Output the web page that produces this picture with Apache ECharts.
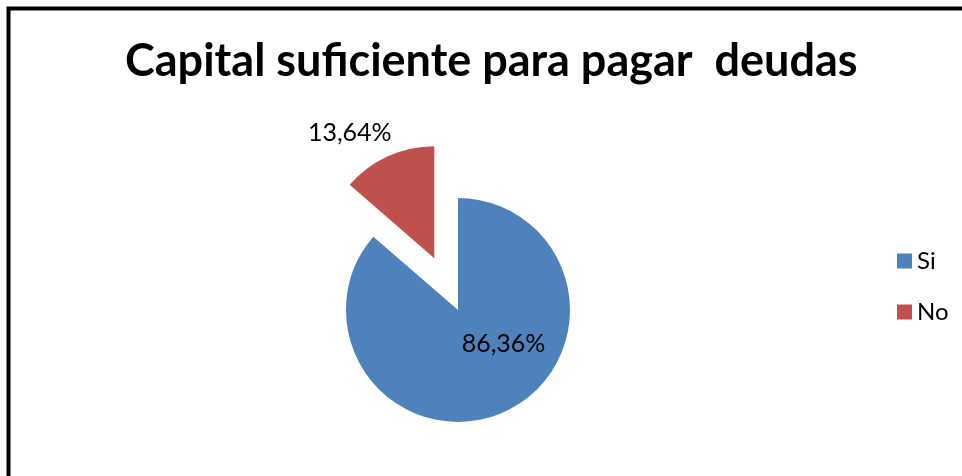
<!DOCTYPE html>
<html>
<head>
<meta charset="utf-8">
<script src="https://cdn.jsdelivr.net/npm/echarts@6/dist/echarts.min.js"></script>
<style>
  html, body { margin: 0; padding: 0; background: #fff; }
  #chart { width: 962px; height: 476px; }
</style>
</head>
<body>
<div id="chart"></div>
<script>
const titleText = 'Capital suficiente para pagar  deudas';
const categories = ['Si', 'No'];
const values = [86.36, 13.64];
const colors = ['#4F81BD', '#C0504D'];
const labelOffsets = [[21, -20], [-60, -72]];

const chart = echarts.init(document.getElementById('chart'), null, { renderer: 'canvas' });

const data = categories.map((name, i) => ({
  name: name,
  value: values[i],
  selected: i === 1,
  itemStyle: { color: colors[i] },
  label: { offset: labelOffsets[i] },
  select: { label: { offset: labelOffsets[i] }, itemStyle: { color: colors[i] } }
}));

chart.setOption({
  animation: false,
  backgroundColor: '#ffffff',
  title: {
    text: titleText,
    left: 125,
    top: 39,
    padding: 0,
    textStyle: {
      fontFamily: 'Lato',
      fontWeight: 'bold',
      fontSize: 45,
      color: '#000'
    }
  },
  legend: {
    orient: 'vertical',
    left: 897,
    top: 249,
    padding: 0,
    itemWidth: 15,
    itemHeight: 15,
    itemGap: 27,
    icon: 'rect',
    selectedMode: false,
    data: categories,
    textStyle: {
      fontFamily: 'Lato',
      fontSize: 24,
      color: '#000',
      padding: [0, 0, 0, 0]
    }
  },
  graphic: [{
    type: 'rect',
    silent: true,
    shape: { x: 8.5, y: 8.5, width: 2000, height: 2000 },
    style: { fill: 'none', stroke: '#000', lineWidth: 4 }
  }],
  series: [{
    type: 'pie',
    center: [458, 310],
    radius: [0, 112],
    startAngle: 90,
    clockwise: true,
    selectedMode: 'single',
    selectedOffset: 57,
    avoidLabelOverlap: false,
    label: {
      show: true,
      position: 'inside',
      formatter: function (p) { return p.value.toFixed(2).replace('.', ',') + '%'; },
      fontFamily: 'Lato',
      fontSize: 25,
      color: '#000'
    },
    labelLine: { show: false },
    emphasis: { disabled: true },
    data: data
  }]
});
</script>
</body>
</html>
